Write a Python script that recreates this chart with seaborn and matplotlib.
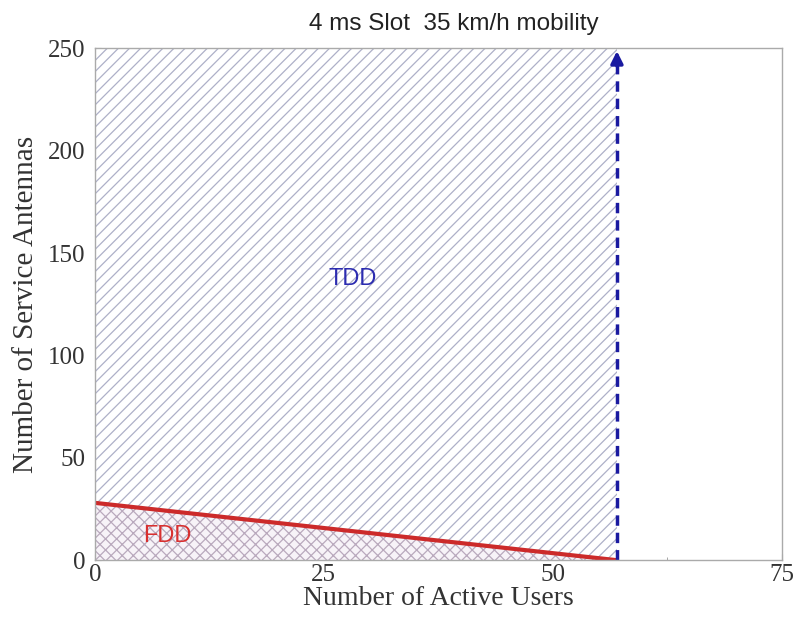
import numpy as np
import matplotlib.pyplot as plt
import seaborn as sns
import pandas as pd

# boundary data
fdd_users = [0, 57]
fdd_antennas = [28, 0]
tdd_limit_users = 57
y_max = 250
x_ticks = [0, 25, 50, 75]
y_ticks = [0, 50, 100, 150, 200, 250]

sns.set_style("ticks")
plt.rcParams["hatch.linewidth"] = 0.9

fig = plt.figure(figsize=(8.11, 6.19), dpi=100)
ax = fig.add_axes([0.117, 0.095, 0.847, 0.827])

# TDD region (diagonal hatch)
ax.fill_between([0, tdd_limit_users], 0, y_max, facecolor="white",
                edgecolor="#aeb0c8", hatch="///", linewidth=0)
# FDD region (cross hatch)
ax.fill_between(fdd_users, 0, fdd_antennas, facecolor="#f7f3f8",
                edgecolor="#b9a9bd", hatch="xxx", linewidth=0)

df = pd.DataFrame({"users": fdd_users, "antennas": fdd_antennas})
sns.lineplot(data=df, x="users", y="antennas", color="#cc2a2a", lw=3, ax=ax)

ax.plot([tdd_limit_users, tdd_limit_users], [0, y_max - 8], color="#1a1aa0",
        lw=2.5, ls=(0, (3, 2)))
ax.annotate("", xy=(tdd_limit_users, y_max), xytext=(tdd_limit_users, y_max - 10),
            arrowprops=dict(arrowstyle="-|>", color="#1a1aa0", lw=2.5,
                            mutation_scale=18), annotation_clip=False)

ax.text(28.1, 137.5, "TDD", color="#2c2cb0", fontsize=17, ha="center", va="center",
        family="Liberation Sans")
ax.text(7.9, 12, "FDD", color="#d83030", fontsize=17, ha="center", va="center",
        family="Liberation Sans")

ax.set_xlim(0, 75)
ax.set_ylim(0, y_max)
ax.set_xticks(x_ticks)
ax.set_yticks(y_ticks)
ax.set_xticks([12.5, 37.5, 62.5], minor=True)
ax.set_yticks([25, 75, 125, 175, 225], minor=True)
ax.tick_params(direction="in", which="both", colors="#999999", length=4,
               labelcolor="#333333", labelsize=18, pad=7)
ax.tick_params(which="minor", length=2)
ax.tick_params(axis="x", pad=3)
for lab in ax.get_xticklabels() + ax.get_yticklabels():
    lab.set_family("Liberation Serif")
for s in ax.spines.values():
    s.set_color("#aaaaaa")
    s.set_linewidth(1)
    s.set_visible(True)

ax.set_xlabel("Number of Active Users", family="Liberation Serif", fontsize=20,
              color="#333333", labelpad=0)
ax.set_ylabel("Number of Service Antennas", family="Liberation Serif", fontsize=21,
              color="#333333", labelpad=6)
ax.set_title("4 ms Slot  35 km/h mobility", family="Liberation Sans", fontsize=17.5,
             color="#222222", pad=13, x=0.523)

fig.savefig("out.png", dpi=100)
